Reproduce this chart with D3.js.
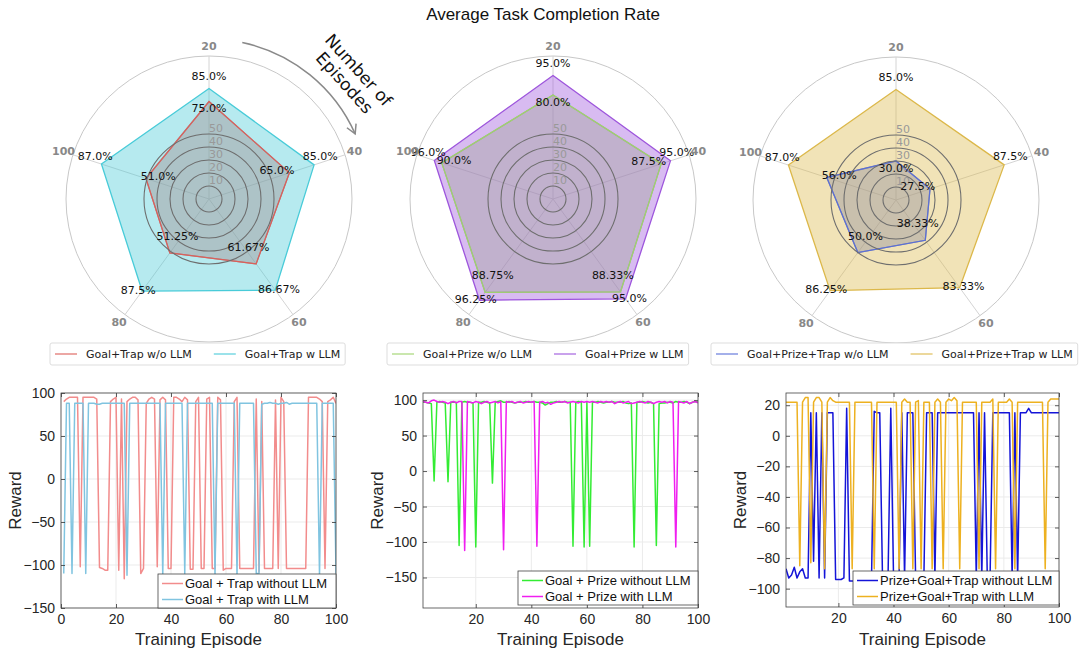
<!DOCTYPE html>
<html>
<head>
<meta charset="utf-8">
<script src="https://cdn.jsdelivr.net/npm/d3@7"></script>
<style>
  body { margin: 0; background: #fff; }
  svg { display: block; }
</style>
</head>
<body>
<div id="chart"></div>
<script>
// Page size
const width = 1086;
const height = 652;
const helv = "Liberation Sans, Arial, Helvetica, sans-serif";

// ---- radar data: completion rate (%) per number of episodes ----
const spokes = ["20", "40", "60", "80", "100"];
const ringTicks = [10, 20, 30, 40, 50];
const trapWo = [75.0, 65.0, 61.67, 51.25, 51.0];
const trapW = [85.0, 85.0, 86.67, 87.5, 87.0];
const prizeWo = [80.0, 87.5, 88.33, 88.75, 90.0];
const prizeW = [95.0, 95.0, 95.0, 96.25, 96.0];
const allWo = [30.0, 27.5, 38.33, 50.0, 56.0];
const allW = [85.0, 87.5, 83.33, 86.25, 87.0];

// ---- reward per training episode (episodes 1..100) ----
const episodes = d3.range(1, 101);

const trapRewardWo = [
  90, 93, 95, 95, 95, 95, -102, 95, 95, 95,
  95, 95, 93, -103, -104, -106, -106, 90, 93, 95,
  -106, 93, -116, 90, 93, 95, 95, 92, -110, -104,
  88, 93, 95, 93, -102, 92, 95, 92, -104, -104,
  95, 95, 93, 90, 95, 92, -105, -105, 90, 95,
  -104, -104, 93, 95, -104, -104, 95, 92, -106, -104,
  -104, -104, 90, 95, -104, -104, -104, -104, -104, -104,
  93, -108, 90, -104, -104, -104, -104, 92, -104, 95,
  90, -104, -104, -104, -104, -104, -104, -104, -104, 95,
  95, 95, 95, 93, 90, -104, 90, 92, 95, 88
];
const trapRewardW = [
  -110, 88, 88, -110, 88, 88, 88, 88, -110, 88,
  88, 88, 87, 87, 88, 88, 88, 88, 88, 88,
  88, 88, 88, -112, 88, 88, 88, 88, 88, 88,
  88, 88, 88, 88, 88, 88, -112, 88, 88, 88,
  88, 88, 88, 88, -110, 88, 88, 88, 88, 88,
  88, 88, 88, 88, 88, -112, 88, 88, 88, 88,
  88, 88, 88, -112, 88, 88, 88, 88, 88, 88,
  -110, -110, 87, 88, 88, 89, 88, 88, 87, 88,
  88, 89, 87, 88, 88, 88, 88, 88, 88, 88,
  88, 88, 88, -112, 88, 88, 88, 88, 88, -110
];
const prizeRewardWo = [
  97, 97, 96, 95, -14, 97, 98, 97, 96, -15,
  97, 97, 97, -105, 97, 98, 97, 97, 96, -107,
  97, 97, 98, 97, 96, -17, 97, 98, 99, 97,
  97, 98, 97, 96, 97, 97, 97, 98, 97, 97,
  98, 97, 97, 96, 93, 95, 97, 97, 98, 97,
  97, 98, 97, 97, -106, 97, 98, 97, -107, 97,
  -106, 97, 97, 98, 97, 96, 97, 97, 98, 97,
  97, 97, 98, 96, 95, 96, -107, 97, 97, 98,
  97, 96, 97, 95, -105, 95, 96, 96, 97, 97,
  96, 98, 97, 97, 98, 97, 95, 97, 98, 97
];
const prizeRewardW = [
  98, 97, 96, 99, 100, 98, 97, 98, 97, 95,
  97, 98, 96, 98, 98, -112, 98, 97, 96, 98,
  97, 95, 97, 98, 96, 97, 98, 96, 98, -111,
  98, 97, 98, 96, 97, 98, 96, 97, 98, 97,
  98, -106, 97, 98, 96, 97, 94, 96, 97, 98,
  97, 98, 96, 97, 98, 97, 96, 98, 97, 98,
  97, 98, 97, 96, 98, 97, 98, 97, 98, 95,
  97, 98, 96, 97, 98, 95, 96, 97, 98, 97,
  96, 98, 97, 95, 97, 98, 97, 98, 96, 98,
  97, -107, 98, 97, 96, 98, 95, 97, 98, 96
];
const allRewardWo = [
  -87, -93, -91, -86, -93, -89, -87, -93, -93, 15,
  -82, 15, -93, 15, -93, 15, 15, 15, -94, -94,
  -94, -93, 18, -95, -95, -95, -95, -95, -95, -95,
  -95, -95, 16, 15, 15, -93, -93, -93, 18, -93,
  -93, -93, 15, -93, 15, 15, 15, -93, -93, -93,
  -93, 15, 15, 15, -93, 15, 15, 15, 15, 15,
  15, 15, 15, 15, 15, 15, 15, 15, 15, -93,
  15, -93, 15, -93, -93, 15, 15, 15, 15, 15,
  15, 15, -93, 15, -93, 15, 15, 15, 18, 15,
  15, 15, 15, 15, 15, 15, 15, 15, 15, 15
];
const allRewardW = [
  22, 22, 22, 22, 22, -85, 22, 25, 25, -83,
  22, 25, 25, 22, -87, 22, 25, 23, 22, 22,
  22, 22, 22, 22, -87, 22, 22, 22, 22, 22,
  22, 22, -87, 22, 22, 22, 22, 22, 22, 22,
  22, -87, 22, 24, 22, 22, -87, 22, 23, -87,
  22, 22, 22, -87, 22, 24, 22, -87, 22, 24,
  23, 25, 23, -87, 22, 22, 22, 22, 22, 22,
  -87, 22, 22, 22, 22, 24, -87, 22, 22, 22,
  22, 24, 22, -87, 22, 22, 22, 22, 22, 22,
  22, 22, 22, 22, -87, 22, 24, 24, 24, 24
];

const svg = d3.select("#chart")
  .append("svg")
  .attr("width", width)
  .attr("height", height)
  .attr("font-family", "DejaVu Sans, sans-serif");

svg.append("text")
  .attr("x", 543).attr("y", 14)
  .attr("text-anchor", "middle").attr("dominant-baseline", "central")
  .attr("font-family", helv).attr("font-size", 17).attr("fill", "#111")
  .text("Average Task Completion Rate");

/*
  Radar charts
*/
const rScale = d3.scaleLinear().domain([0, 110]).range([0, 143]);
const step = 2 * Math.PI / spokes.length;
const fmtPct = v => (Number.isInteger(Math.round(v * 100) / 10) ? v.toFixed(1) : v.toFixed(2)) + "%";
const polar = (r, i) => [r * Math.sin(i * step), -r * Math.cos(i * step)];

function drawRadar(cx, cy, wo, w, woColor, wColor) {
  const g = svg.append("g").attr("transform", `translate(${cx},${cy})`);

  g.append("circle").attr("r", rScale(110))
    .attr("fill", "none").attr("stroke", "#c8c8c8").attr("stroke-width", 1);
  spokes.forEach((s, i) => {
    const [x2, y2] = polar(rScale(110), i);
    g.append("line").attr("x2", x2).attr("y2", y2)
      .attr("stroke", "#d4d4d4").attr("stroke-width", 1);
  });

  const radial = d3.lineRadial()
    .angle((d, i) => i * step)
    .radius(d => rScale(d))
    .curve(d3.curveLinearClosed);

  // without LLM first, with LLM on top (overlap turns greyish)
  g.append("path").attr("d", radial(wo))
    .attr("fill", woColor).attr("fill-opacity", 0.4)
    .attr("stroke", woColor).attr("stroke-width", 1.3);
  g.append("path").attr("d", radial(w))
    .attr("fill", wColor).attr("fill-opacity", 0.4)
    .attr("stroke", wColor).attr("stroke-width", 1.3);
  g.append("path").attr("d", radial(wo))
    .attr("fill", "none").attr("stroke", woColor).attr("stroke-width", 1.2);

  // inner rings with their labels
  ringTicks.forEach(t => {
    g.append("circle").attr("r", rScale(t))
      .attr("fill", "none").attr("stroke", "#6e6e6e").attr("stroke-width", 1.1);
    g.append("text").attr("x", 7).attr("y", -rScale(t) - 6)
      .attr("text-anchor", "middle").attr("dominant-baseline", "central")
      .attr("font-size", 11).attr("fill", "#999").text(t);
  });

  // value labels
  w.forEach((v, i) => {
    const [x, y] = polar(rScale(v + 5), i);
    g.append("text").attr("x", x).attr("y", y - 6)
      .attr("text-anchor", "middle").attr("dominant-baseline", "central")
      .attr("font-size", 11).attr("fill", "#111").text(fmtPct(v));
  });
  wo.forEach((v, i) => {
    const [x, y] = polar(rScale(v - 10), i);
    g.append("text").attr("x", x).attr("y", y - 6)
      .attr("text-anchor", "middle").attr("dominant-baseline", "central")
      .attr("font-size", 11).attr("fill", "#111").text(fmtPct(v));
  });

  // spoke labels
  spokes.forEach((s, i) => {
    const [x, y] = polar(153, i);
    g.append("text").attr("x", x).attr("y", y)
      .attr("text-anchor", "middle").attr("dominant-baseline", "central")
      .attr("font-size", 11).attr("font-weight", "bold").attr("fill", "#888").text(s);
  });
}

drawRadar(209, 199, trapWo, trapW, "#dd5f5a", "#48cbd8");
drawRadar(553, 199, prizeWo, prizeW, "#9fd46c", "#9d55dc");
drawRadar(896, 200, allWo, allW, "#5a6fd8", "#dcb84a");

// "Number of Episodes" arrow
const arc = d3.arc().innerRadius(160).outerRadius(160)
  .startAngle(12 * Math.PI / 180).endAngle(66 * Math.PI / 180);
const arrowG = svg.append("g").attr("transform", "translate(209,199)");
arrowG.append("path").attr("d", arc()).attr("fill", "none")
  .attr("stroke", "#8a8a8a").attr("stroke-width", 1.5);
const tip = polar(160, 66 / 72);
const ta = 66 * Math.PI / 180;
// tangent direction (clockwise) at the arc end
const tx = Math.cos(ta), ty = Math.sin(ta);
const nx = Math.sin(ta), ny = -Math.cos(ta);
arrowG.append("path")
  .attr("d", `M${tip[0] - 9 * tx + 5 * nx},${tip[1] - 9 * ty + 5 * ny} L${tip[0]},${tip[1]} L${tip[0] - 9 * tx - 5 * nx},${tip[1] - 9 * ty - 5 * ny}`)
  .attr("fill", "none").attr("stroke", "#8a8a8a").attr("stroke-width", 1.5);
const lbl = svg.append("text").attr("transform", "translate(352,76) rotate(48)")
  .attr("text-anchor", "middle").attr("font-size", 17).attr("fill", "#111");
lbl.append("tspan").attr("x", 0).attr("y", -3).text("Number of");
lbl.append("tspan").attr("x", 0).attr("y", 16).text("Episodes");

// top legends
function topLegend(x0, items) {
  const g = svg.append("g");
  const box = g.append("rect").attr("x", x0).attr("y", 343).attr("height", 22)
    .attr("fill", "#fff").attr("stroke", "#dddddd").attr("rx", 2);
  let x = x0 + 5;
  items.forEach(([name, color]) => {
    g.append("line").attr("x1", x).attr("x2", x + 22).attr("y1", 354).attr("y2", 354)
      .attr("stroke", color).attr("stroke-opacity", 0.55).attr("stroke-width", 2);
    const t = g.append("text").attr("x", x + 31).attr("y", 354)
      .attr("dominant-baseline", "central").attr("font-size", 11).attr("fill", "#222").text(name);
    x += 31 + t.node().getComputedTextLength() + 22;
  });
  box.attr("width", x - 22 + 5 - x0);
}
topLegend(50, [["Goal+Trap w/o LLM", "#dd5f5a"], ["Goal+Trap w LLM", "#48cbd8"]]);
topLegend(387, [["Goal+Prize w/o LLM", "#9fd46c"], ["Goal+Prize w LLM", "#9d55dc"]]);
topLegend(711, [["Goal+Prize+Trap w/o LLM", "#5a6fd8"], ["Goal+Prize+Trap w LLM", "#dcb84a"]]);

/*
  Reward line charts
*/
function drawReward(o) {
  const x = d3.scaleLinear().domain(o.xDomain).range([o.left, o.right]);
  const y = d3.scaleLinear().domain(o.yDomain).range([o.bottom, o.top]);
  const g = svg.append("g").attr("font-family", helv);

  g.append("g").selectAll("line").data(o.xTicks).join("line")
    .attr("x1", d => x(d)).attr("x2", d => x(d))
    .attr("y1", o.top).attr("y2", o.bottom)
    .attr("stroke", "#ebebeb");
  g.append("g").selectAll("line").data(o.yTicks).join("line")
    .attr("x1", o.left).attr("x2", o.right)
    .attr("y1", d => y(d)).attr("y2", d => y(d))
    .attr("stroke", "#ebebeb");

  const clipId = "clip" + o.id;
  svg.append("clipPath").attr("id", clipId).append("rect")
    .attr("x", o.left).attr("y", o.top)
    .attr("width", o.right - o.left).attr("height", o.bottom - o.top);

  const line = d3.line().x((d, i) => x(episodes[i])).y(d => y(d));
  o.series.forEach(s => {
    g.append("path").attr("d", line(s.values))
      .attr("clip-path", `url(#${clipId})`)
      .attr("fill", "none").attr("stroke", s.color).attr("stroke-width", 1.5)
      .attr("stroke-linejoin", "round");
  });

  const styleAxis = sel => {
    sel.select(".domain").remove();
    sel.selectAll(".tick line").attr("stroke", "#333").attr("stroke-width", 0.8);
    sel.selectAll(".tick text").attr("font-family", helv).attr("font-size", 14).attr("fill", "#262626");
  };
  g.append("g").attr("transform", `translate(0,${o.bottom})`)
    .call(d3.axisBottom(x).tickValues(o.xTicks).tickSize(-4).tickPadding(6))
    .call(styleAxis);
  g.append("g").attr("transform", `translate(0,${o.top})`)
    .call(d3.axisTop(x).tickValues(o.xTicks).tickSize(-4).tickFormat(""))
    .call(styleAxis);
  g.append("g").attr("transform", `translate(${o.left},0)`)
    .call(d3.axisLeft(y).tickValues(o.yTicks).tickSize(-4).tickPadding(6))
    .call(styleAxis);
  g.append("g").attr("transform", `translate(${o.right},0)`)
    .call(d3.axisRight(y).tickValues(o.yTicks).tickSize(-4).tickFormat(""))
    .call(styleAxis);

  g.append("rect").attr("x", o.left).attr("y", o.top)
    .attr("width", o.right - o.left).attr("height", o.bottom - o.top)
    .attr("fill", "none").attr("stroke", "#444").attr("stroke-width", 0.8);

  g.append("text").attr("transform", `translate(${o.left - 46},${(o.top + o.bottom) / 2}) rotate(-90)`)
    .attr("text-anchor", "middle").attr("dominant-baseline", "central")
    .attr("font-size", 17).attr("fill", "#262626").text("Reward");
  g.append("text").attr("x", (o.left + o.right) / 2).attr("y", 639)
    .attr("text-anchor", "middle").attr("dominant-baseline", "central")
    .attr("font-size", 17).attr("fill", "#262626").text("Training Episode");

  // legend
  const lg = g.append("g");
  const lx = o.right - o.legendWidth, ly = o.legendBottom - 34;
  lg.append("rect").attr("x", lx).attr("y", ly).attr("width", o.legendWidth).attr("height", 34)
    .attr("fill", "#fff").attr("stroke", "#444").attr("stroke-width", 0.8);
  o.series.forEach((s, i) => {
    const yy = ly + 9.5 + i * 16;
    lg.append("line").attr("x1", lx + 4).attr("x2", lx + 25).attr("y1", yy).attr("y2", yy)
      .attr("stroke", s.color).attr("stroke-width", 1.5);
    lg.append("text").attr("x", lx + 27).attr("y", yy)
      .attr("dominant-baseline", "central").attr("font-size", 13).attr("fill", "#111").text(s.name);
  });
}

drawReward({
  id: 1, left: 61, right: 336, top: 393, bottom: 608,
  xDomain: [0, 100], yDomain: [-150, 100],
  xTicks: [0, 20, 40, 60, 80, 100], yTicks: [-150, -100, -50, 0, 50, 100],
  legendWidth: 178, legendBottom: 608,
  series: [
    {name: "Goal + Trap without LLM", color: "#f28c8c", values: trapRewardWo},
    {name: "Goal + Trap with LLM", color: "#80c4e0", values: trapRewardW}
  ]
});
drawReward({
  id: 2, left: 423, right: 698, top: 393, bottom: 608,
  xDomain: [1, 100], yDomain: [-193, 110],
  xTicks: [20, 40, 60, 80, 100], yTicks: [-150, -100, -50, 0, 50, 100],
  legendWidth: 180, legendBottom: 605,
  series: [
    {name: "Goal + Prize without LLM", color: "#33ec33", values: prizeRewardWo},
    {name: "Goal + Prize with LLM", color: "#f01ef0", values: prizeRewardW}
  ]
});
drawReward({
  id: 3, left: 786, right: 1059, top: 393, bottom: 607,
  xDomain: [1, 100], yDomain: [-112, 28],
  xTicks: [20, 40, 60, 80, 100], yTicks: [-100, -80, -60, -40, -20, 0, 20],
  legendWidth: 206, legendBottom: 605,
  series: [
    {name: "Prize+Goal+Trap without LLM", color: "#1414d8", values: allRewardWo},
    {name: "Prize+Goal+Trap with LLM", color: "#edb120", values: allRewardW}
  ]
});
</script>
</body>
</html>
